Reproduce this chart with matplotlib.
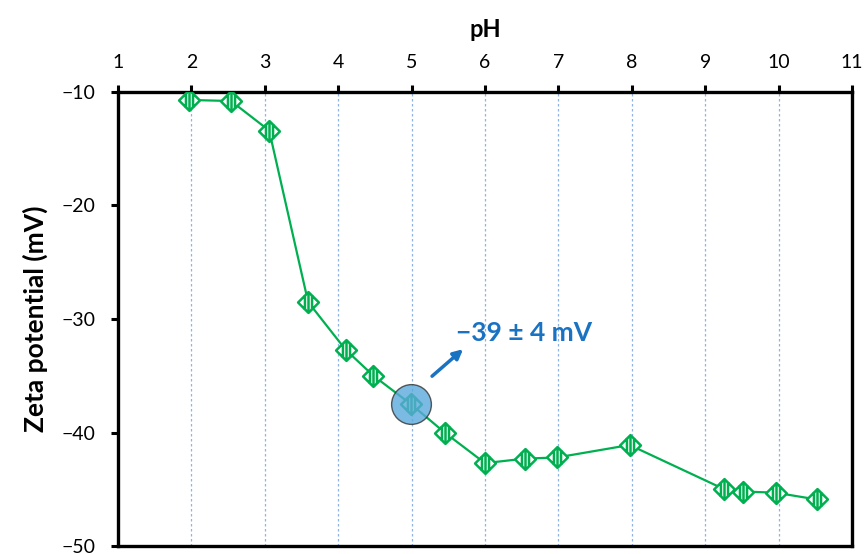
import matplotlib
matplotlib.use("Agg")
import matplotlib.pyplot as plt
from matplotlib.path import Path

# pH titration, zeta potential readings
ph = [1.97, 2.54, 3.06, 3.59, 4.10, 4.48, 4.99, 5.45, 6.00, 6.54, 6.98, 7.97, 9.26, 9.51, 9.96, 10.52]
zeta = [-10.7, -10.8, -13.4, -28.5, -32.7, -35.0, -37.5, -40.0, -42.7, -42.3, -42.2, -41.1, -45.0, -45.2, -45.3, -45.9]
hl_ph, hl_zeta = 4.99, -37.5
hl_text = "\u221239 \u00b1 4 mV"

plt.rcParams['font.family'] = ['Lato', 'DejaVu Sans']
green = '#00b050'

# diamond marker with vertical hatch lines
verts = [(0, 0.5), (0.5, 0), (0, -0.5), (-0.5, 0), (0, 0.5),
         (-0.17, 0.33), (-0.17, -0.33),
         (0, 0.45), (0, -0.45),
         (0.17, 0.33), (0.17, -0.33)]
codes = [Path.MOVETO, Path.LINETO, Path.LINETO, Path.LINETO, Path.CLOSEPOLY,
         Path.MOVETO, Path.LINETO, Path.MOVETO, Path.LINETO, Path.MOVETO, Path.LINETO]
hatched = Path(verts, codes)

fig = plt.figure(figsize=(8.65, 5.54), dpi=100)
ax = fig.add_axes([0.1364, 0.0144, 0.8486, 0.8196])

ax.plot(ph, zeta, color=green, lw=1.6, marker=hatched, ms=15,
        mfc='white', mec=green, mew=1.8, zorder=3)

ax.scatter([hl_ph], [hl_zeta], s=820, color='#5aa9dc', alpha=0.8,
           edgecolors='#333333', linewidths=1.0, zorder=4)
ax.annotate('', xy=(5.73, -32.5), xytext=(5.25, -35.2),
            arrowprops=dict(arrowstyle='-|>', color='#1a73c2', lw=2.5,
                            mutation_scale=14), zorder=5)
ax.text(5.6, -31.2, hl_text, color='#1a73c2', fontsize=19, fontweight='bold',
        va='center', ha='left')

ax.set_xlim(1, 11)
ax.set_ylim(-50, -10)
ax.set_xticks(range(1, 12))
ax.set_yticks([-10, -20, -30, -40, -50])
ax.set_yticklabels(['\u221210', '\u221220', '\u221230', '\u221240', '\u221250'])

ax.xaxis.set_ticks_position('top')
ax.xaxis.set_label_position('top')
ax.tick_params(axis='x', direction='out', length=5, width=2.2, labelsize=14, pad=10)
ax.tick_params(axis='y', direction='out', length=5, width=2.2, labelsize=14, pad=11)
for s in ax.spines.values():
    s.set_linewidth(2.4)

ax.set_xlabel('pH', fontsize=17, fontweight='bold', labelpad=12)
ax.set_ylabel('Zeta potential (mV)', fontsize=19, fontweight='bold', labelpad=10)

for g in range(2, 11):
    ax.axvline(g, color='#8fb4e3', lw=0.9, ls=(0, (2, 2)), zorder=1)

fig.savefig('out.png', dpi=100)
